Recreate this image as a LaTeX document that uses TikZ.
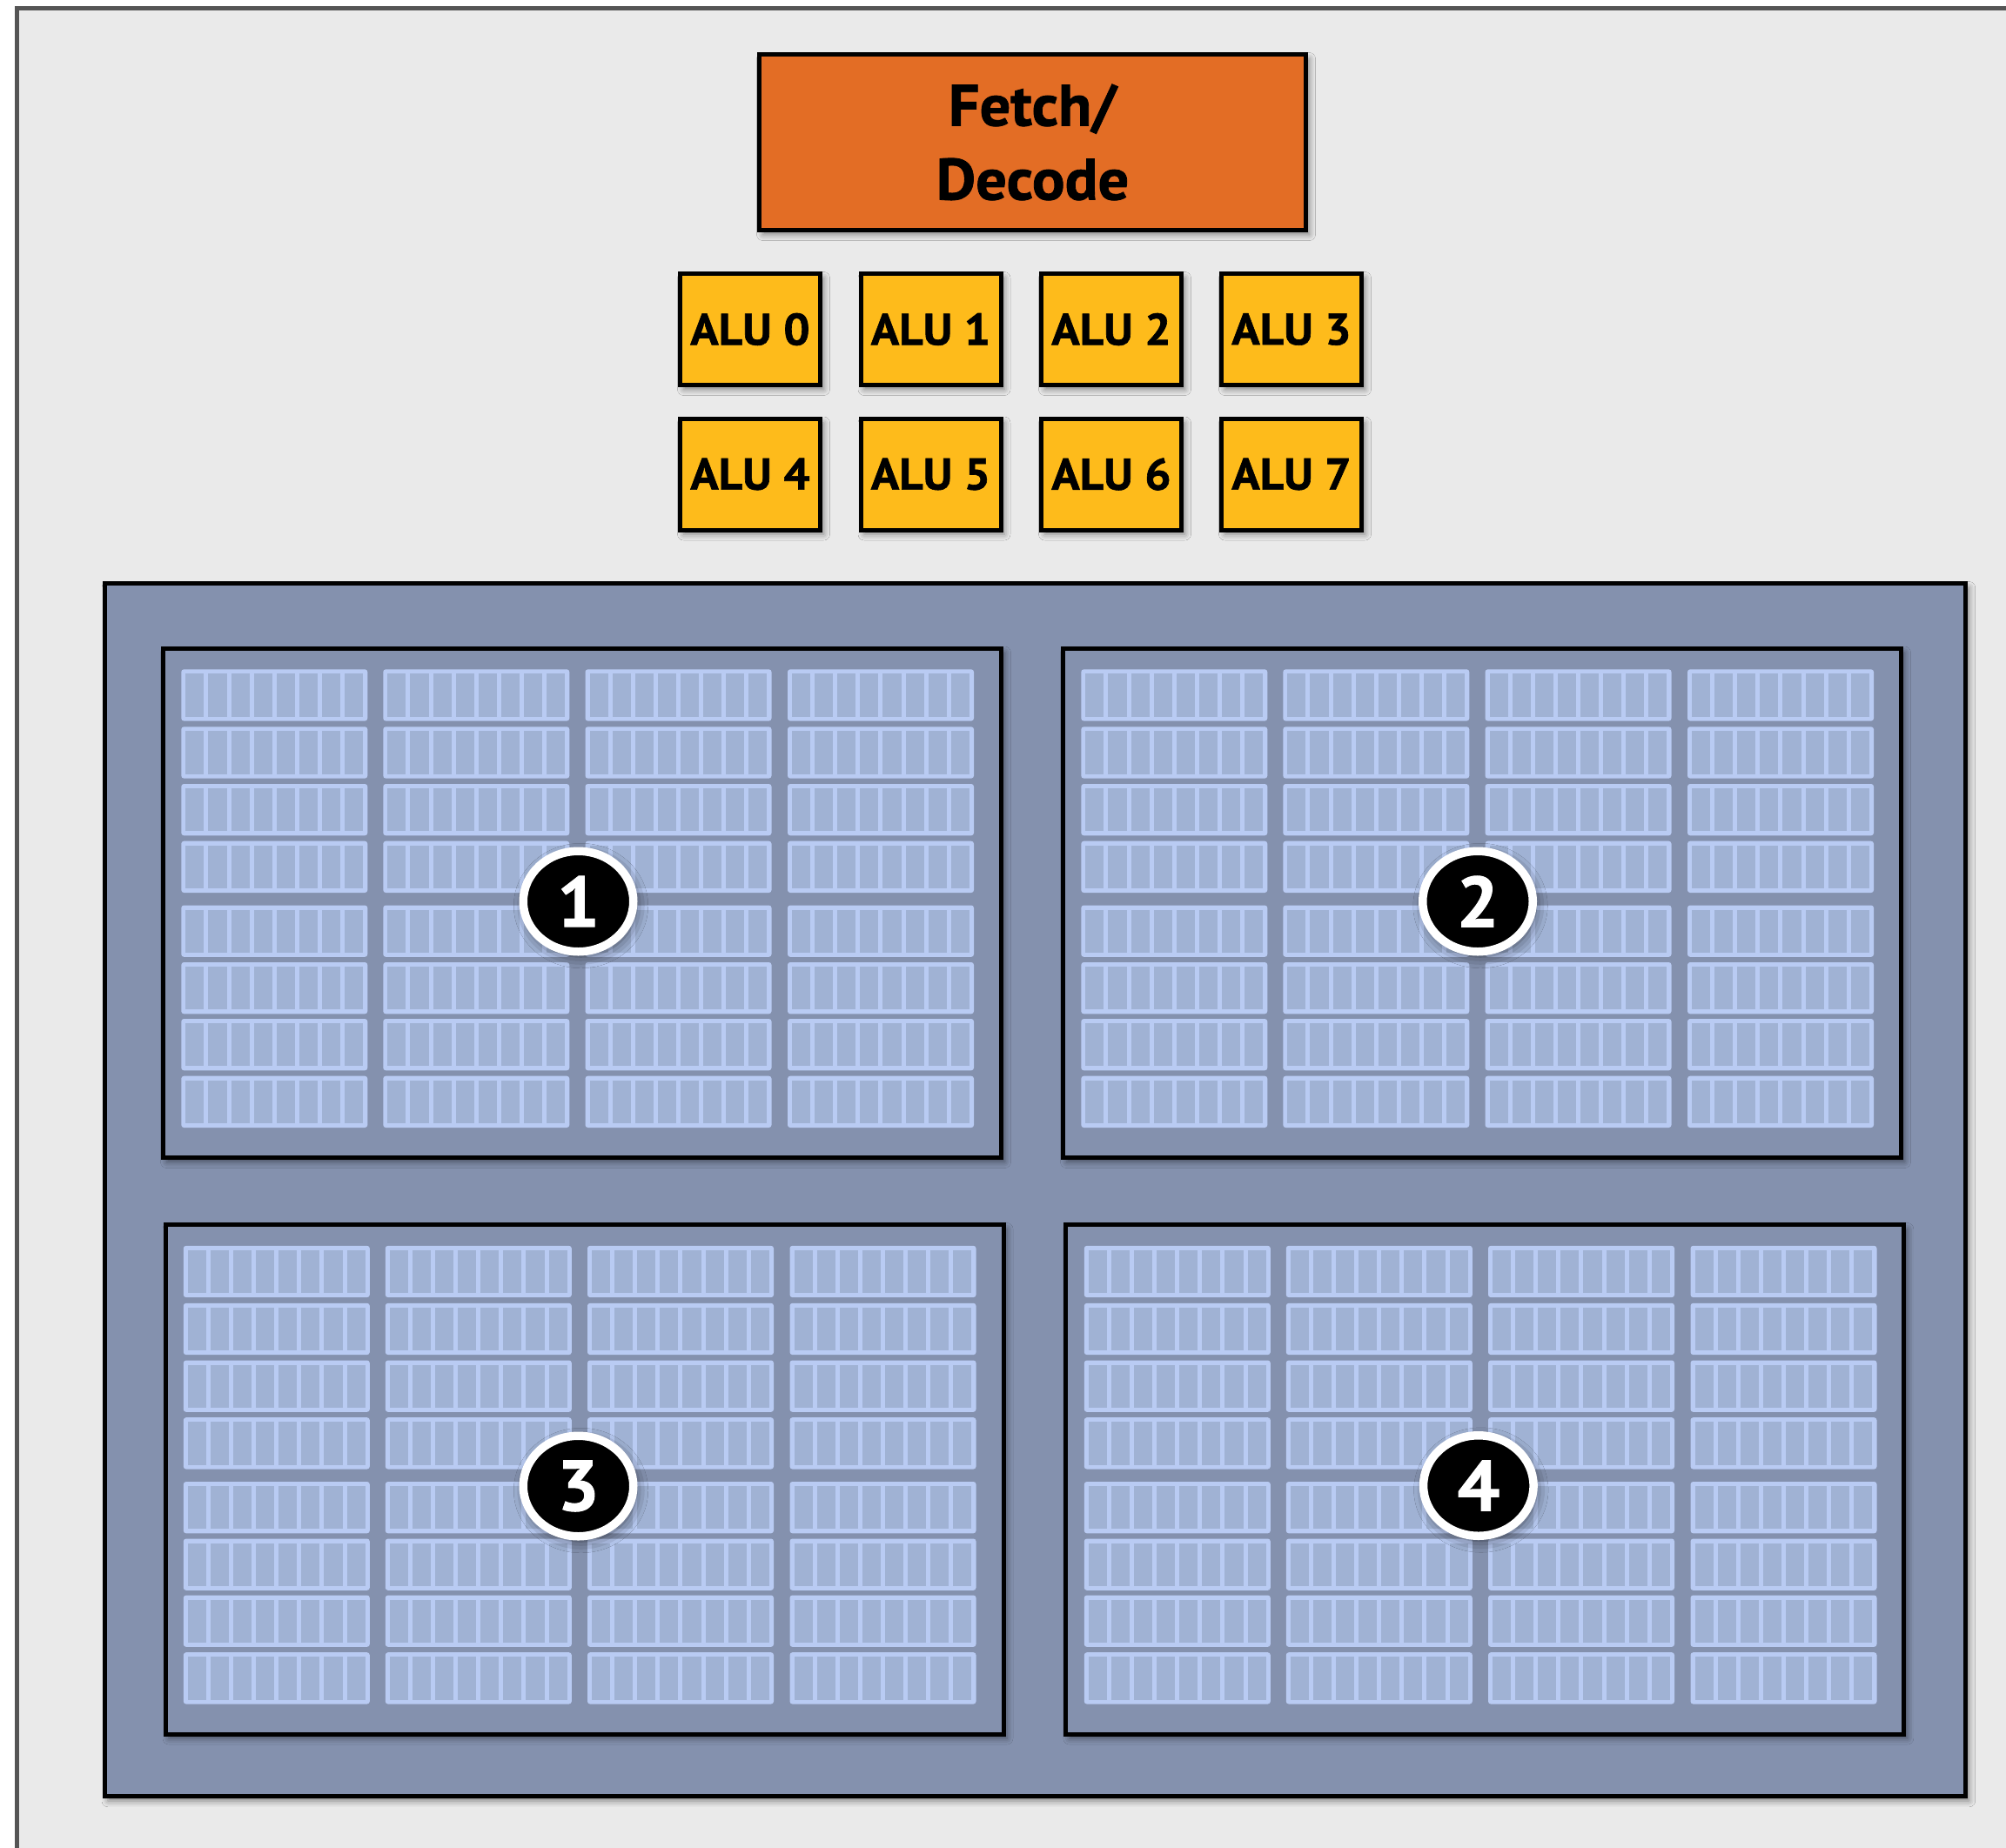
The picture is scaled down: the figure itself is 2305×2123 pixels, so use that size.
\documentclass[tikz,border=0pt]{standalone}
\usepackage{fontspec}
\setmainfont{PT Sans}
\newfontfamily\labelfont{PT Sans Bold}[FakeStretch=1.05,FakeBold=1.2]
\usetikzlibrary{shapes.geometric,shadows.blur}
\definecolor{framefill}{HTML}{EAEAEA}
\definecolor{frameline}{HTML}{555555}
\definecolor{fetchfill}{HTML}{E36D25}
\definecolor{alufill}{HTML}{FEBB1B}
\definecolor{bluebox}{HTML}{8491AE}
\definecolor{blockline}{HTML}{B9CBF3}
\definecolor{cellfill}{HTML}{A0B2D4}
\tikzset{
  softshadow/.style={blur shadow={shadow xshift=4pt,shadow yshift=-5pt,shadow blur radius=7pt,shadow opacity=45}},
  fetchbox/.style={draw=black,line width=5pt,fill=fetchfill,inner sep=0pt,softshadow,
     minimum width=628pt,minimum height=202pt,align=center,
     font=\fontsize{67}{85}\labelfont},
  alubox/.style={draw=black,line width=5pt,fill=alufill,inner sep=0pt,softshadow,
     minimum width=161pt,minimum height=128pt,font=\fontsize{51}{60}\labelfont},
  outerbox/.style={draw=black,line width=5pt,fill=bluebox,inner sep=0pt,softshadow},
  quadbox/.style={draw=black,line width=5pt,fill=bluebox,inner sep=0pt,softshadow,
     minimum width=963pt,minimum height=585.5pt},
  numdisc/.style={ellipse,draw=white,line width=9.5pt,fill=black,inner sep=0pt,
     minimum width=126.5pt,minimum height=115.5pt,text=white,
     blur shadow={shadow xshift=3pt,shadow yshift=-5pt,shadow blur radius=14pt,shadow opacity=60},
     font=\fontsize{82}{82}\labelfont},
}
\begin{document}
\begin{tikzpicture}[x=1pt,y=-1pt]
\useasboundingbox (0,0) rectangle (2305,2123);
\clip (0,0) rectangle (2305,2123);
\fill[white] (0,0) rectangle (2305,2123);
\draw[fill=framefill,draw=frameline,line width=5pt] (19.2,9.8) rectangle (2400,2300);

% fetch / decode
\node[fetchbox] (fetch) at (1186.5,163.5) {Fetch/\\Decode};

% ALUs
\foreach \i/\x/\y in {0/862/378.5,1/1069.5/378.5,2/1277/378.5,3/1484/378.5,
                      4/862/545,5/1069.5/545,6/1277/545,7/1484/545}
  \node[alubox] (alu\i) at (\x,\y) {ALU \i};

% outer execution context box
\node[outerbox,minimum width=2138.7pt,minimum height=1394.2pt] (ctx) at (1189.35,1367.6) {};

% four quadrants
\node[quadbox] (q1) at (669,1037.75) {};
\node[quadbox] (q2) at (1703,1037.75) {};
\node[quadbox] (q3) at (671.5,1700.25) {};
\node[quadbox] (q4) at (1706.25,1700.25) {};

% register blocks
\foreach \qx/\qy in {187.5/745,1221.5/745,190/1407.5,1225/1407.5}{
  \foreach \cx in {20.8,252.8,485,717.5}{
    \foreach \ry in {24.3,90.3,156,221.7,295.5,361,426,491.7}{
      \fill[blockline,rounded corners=3pt] (\qx+\cx,\qy+\ry) rectangle ++(214,59.3);
      \foreach \k in {0,...,7}
        \fill[cellfill] (\qx+\cx+5+26.1*\k,\qy+\ry+5) rectangle ++(21.1,49.3);
    }
  }
}

% numbered discs
\node[numdisc] (n1) at (664.5,1036) {1};
\node[numdisc] (n2) at (1698,1036) {2};
\node[numdisc] (n3) at (664.5,1708) {3};
\node[numdisc] (n4) at (1698.8,1707.5) {4};
\end{tikzpicture}
\end{document}
